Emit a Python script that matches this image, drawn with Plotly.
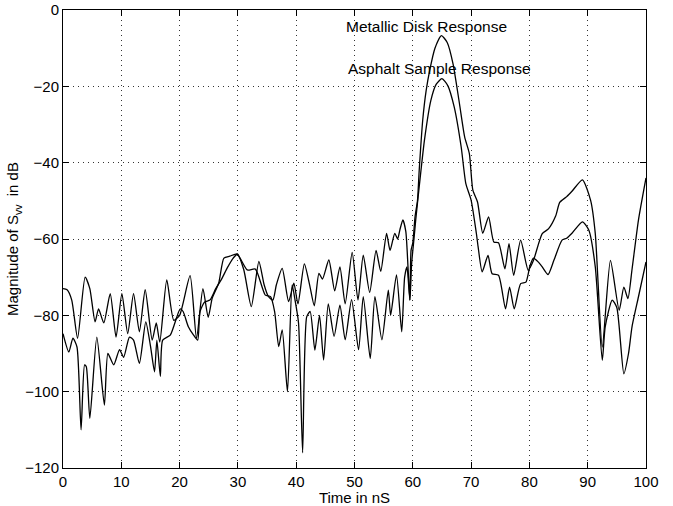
import plotly.graph_objects as go

# Time in nS and magnitude in dB
metal_t = [0, 0.7, 1.5, 2.5, 3.8, 4.6, 5.5, 6.1, 7.0, 8.1, 9.1, 10.1, 11.1, 12.1, 13.1, 14.1,
           15.3, 16.0, 16.6, 17.8, 19.0, 20.0, 21.8, 22.9, 24.0, 24.9, 25.6, 26.7, 27.6, 28.6,
           29.9, 31.0, 32.3, 33.6, 34.5, 35.2, 36.0, 36.6, 37.6, 38.7, 39.6, 40.3, 41.4, 42.3,
           43.1, 43.9, 44.5, 45.6, 46.6, 47.5, 48.4, 49.6, 50.6, 51.5, 52.6, 53.7, 54.5, 55.5,
           56.1, 56.9, 57.4, 57.8, 58.3, 58.8, 59.2, 59.5, 59.7, 60.0, 60.4, 60.8, 61.1, 61.7,
           62.3, 62.9, 63.8, 64.9, 65.9, 66.9, 68.0, 68.9, 69.7, 70.3, 71.1, 72.0, 73.0, 73.9,
           74.7, 75.8, 76.5, 77.3, 78.5, 79.8, 80.7, 82.2, 83.3, 84.5, 85.2, 86.4, 87.3, 89.1,
           90.5, 91.3, 92.5, 93.9, 95.4, 96.2, 96.9, 97.6, 98.7, 100]
metal_db = [-73, -73.3, -76, -86, -70, -73, -81.7, -78.3, -82, -74.3, -85.7, -74.3, -84.8, -74.3, -84.3, -73.3,
            -86.5, -82, -87, -70.7, -81.3, -80, -69.6, -86, -73, -80.5, -75.5, -71.6, -65, -64.5,
            -63.9, -68, -77.7, -65.9, -72, -75, -76, -72, -67.7, -76.4, -71.6, -77, -66.5, -72,
            -77.5, -69, -70.5, -65.5, -73.6, -67.3, -77, -63.5, -76, -64.2, -74, -63, -68.5, -58.5,
            -63, -58.5, -60, -57.5, -55, -58, -68, -76, -63, -61, -54, -50, -42, -28.9,
            -21, -15.8, -10, -6.7, -8.5, -14.1, -24.5, -33.3, -37.6, -47.2, -50.3, -58.5, -54.2, -60.8,
            -61, -67.8, -61.2, -69.5, -60.3, -68.2, -65.6, -58.6, -57.3, -54, -50.4, -48.9, -47.5, -44.5,
            -49.9, -58.6, -88.3, -65.6, -78.7, -72.6, -75.6, -68, -55.1, -44]

asphalt_t = [0, 1.0, 1.7, 2.4, 3.1, 3.7, 4.0, 4.6, 5.8, 7.1, 7.7, 8.7, 9.7, 10.4, 11.4, 12.1,
             13.1, 14.2, 15.0, 15.7, 16.1, 16.7, 17.1, 18.4, 20.1, 20.6, 21.5, 22.4, 23.1, 23.5,
             24.3, 25.2, 26.2, 27.2, 28.2, 29.2, 29.9, 31.6, 33.0, 34.7, 35.6, 36.3, 37.0, 37.6,
             38.5, 39.3, 39.8, 40.4, 41.1, 41.8, 42.4, 43.2, 44.0, 44.7, 45.5, 46.5, 47.5, 48.4,
             49.5, 50.7, 51.5, 52.7, 53.5, 54.7, 55.8, 56.2, 57.2, 58.1, 58.6, 59.0, 59.5, 59.8,
             60.2, 60.5, 61.1, 62.0, 63.1, 64.0, 65.0, 66.0, 67.1, 68.3, 69.1, 70.0, 70.9, 71.2,
             71.9, 72.9, 73.6, 74.7, 75.9, 76.6, 77.4, 78.5, 79.4, 80.1, 80.7, 81.5, 82.2, 83.2,
             84.2, 85.6, 86.4, 87.3, 89.1, 90.2, 91.3, 92.5, 93.0, 94.2, 95.0, 96.2, 97.0, 97.6,
             98.7, 100]
asphalt_db = [-84.8, -89.6, -86, -88.3, -110, -93, -93.5, -107, -85.7, -103.5, -90, -93, -89, -91, -85.7, -86.5,
              -92.6, -81.7, -88, -94.8, -86.5, -96, -86.5, -85.2, -78.3, -79, -83, -85.2, -86.5, -79,
              -76.5, -76, -73, -70.5, -67.5, -65, -64, -68.1, -67.9, -74.7, -75.1, -79, -88.2, -83.8,
              -100, -72, -76, -82, -116, -80.4, -79, -89.1, -80, -91.7, -77, -85.5, -77.3, -86.4,
              -75.9, -89, -75.1, -91.3, -75.1, -86.4, -73.4, -80, -69.4, -84.3, -70, -67.3, -76, -66.4,
              -60, -55, -46.3, -34.1, -23.7, -19.5, -18, -19.8, -25.4, -35.9, -45.5, -49.8, -58.5, -62,
              -68.6, -64.3, -69.1, -69.5, -78.3, -72.6, -78.3, -71.7, -71.3, -67, -65, -66, -67.3, -69.3,
              -65.6, -60.3, -59.8, -58.5, -55.5, -57.7, -67.3, -91.8, -83, -76, -78, -95.3, -90, -83,
              -75.2, -66]

x_ticks = [0, 10, 20, 30, 40, 50, 60, 70, 80, 90, 100]
y_ticks = [0, -20, -40, -60, -80, -100, -120]

labels = ["Metallic Disk Response", "Asphalt Sample Response"]
label_pos = [(48.2, -4.2), (48.5, -15.2)]

font_family = "Liberation Sans, Arial, Helvetica, sans-serif"

fig = go.Figure()
fig.add_trace(go.Scatter(x=metal_t, y=metal_db, mode="lines",
                         line=dict(color="black", width=1.3, shape="spline", smoothing=0.6),
                         name=labels[0]))
fig.add_trace(go.Scatter(x=asphalt_t, y=asphalt_db, mode="lines",
                         line=dict(color="black", width=1.3, shape="spline", smoothing=0.6),
                         name=labels[1]))

for txt, (tx, ty) in zip(labels, label_pos):
    fig.add_annotation(x=tx, y=ty, text=txt, showarrow=False, xanchor="left", yanchor="middle",
                       font=dict(size=15.5, color="black", family=font_family))

axis_common = dict(showline=True, linecolor="black", linewidth=1, mirror="ticks",
                   ticks="inside", ticklen=6, tickcolor="black", showgrid=True,
                   gridcolor="#333333", griddash="1px,4px", gridwidth=1, zeroline=False,
                   automargin=False,
                   tickfont=dict(size=15, color="black", family=font_family))

fig.update_xaxes(range=[0, 100], tickvals=x_ticks, ticktext=[str(v) for v in x_ticks],
                 title=dict(text="Time in nS", standoff=0,
                            font=dict(size=15, color="black", family=font_family)),
                 **axis_common)
fig.update_yaxes(range=[-120, 0], tickvals=y_ticks,
                 ticktext=[("\u2212" + str(-v)) if v < 0 else str(v) for v in y_ticks],
                 title=dict(text="Magnitude of S<sub>vv</sub>  in dB", standoff=2,
                            font=dict(size=15, color="black", family=font_family)),
                 **axis_common)

fig.update_layout(width=673, height=506, margin=dict(l=63, r=27, t=10, b=38),
                  paper_bgcolor="white", plot_bgcolor="white", showlegend=False)

fig.write_html("out.html", config={"displayModeBar": False},
               post_script="document.body.style.margin='0';document.body.style.overflow='hidden';")
